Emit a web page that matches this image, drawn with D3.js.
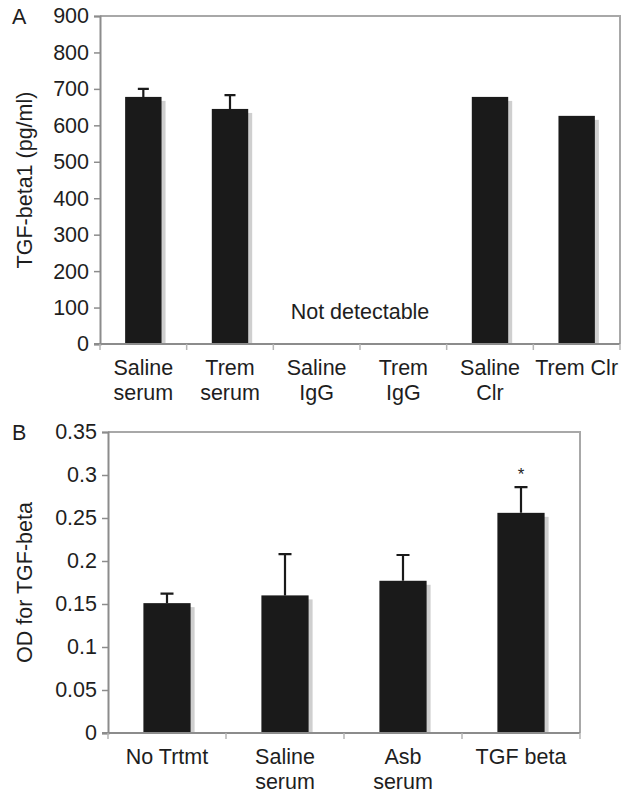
<!DOCTYPE html>
<html>
<head>
<meta charset="utf-8">
<script src="https://cdn.jsdelivr.net/npm/d3@7"></script>
<style>
  body { margin: 0; background: #fff; }
  svg text { font-family: "Liberation Sans", Arial, sans-serif; fill: #1e1e1e; }
</style>
</head>
<body>
<div id="chart"></div>
<script>
// Panel A data
const catsA = [["Saline", "serum"], ["Trem", "serum"], ["Saline", "IgG"], ["Trem", "IgG"], ["Saline", "Clr"], ["Trem Clr"]];
const valuesA = [678, 645, null, null, 678, 626];
const errorsA = [22, 38, null, null, 0, 0];
const ticksA = [0, 100, 200, 300, 400, 500, 600, 700, 800, 900];

// Panel B data
const catsB = [["No Trtmt"], ["Saline", "serum"], ["Asb", "serum"], ["TGF beta"]];
const valuesB = [0.151, 0.160, 0.177, 0.256];
const errorsB = [0.011, 0.048, 0.030, 0.030];
const ticksB = [0, 0.05, 0.1, 0.15, 0.2, 0.25, 0.3, 0.35];

const FS = 21.5;

const svg = d3.select("#chart").append("svg")
    .attr("width", 624)
    .attr("height", 795);

function drawPanel(opts) {
    const { cats, values, errors, ticks, x0, x1, y0, y1, yMax, fmt, barFrac, capW, title, letter } = opts;
    const g = svg.append("g");

    const x = d3.scaleBand()
        .domain(cats.map((d, i) => i))
        .range([x0, x1])
        .padding(0);

    const y = d3.scaleLinear()
        .domain([0, yMax])
        .range([y1, y0]);

    // frame (top and right)
    g.append("path")
        .attr("d", `M${x0},${y0}H${x1}V${y1}`)
        .attr("fill", "none")
        .attr("stroke", "#a8a8a8")
        .attr("stroke-width", 2);

    const bw = x.bandwidth() * barFrac;
    const data = values.map((v, i) => ({ i, v, e: errors[i] })).filter(d => d.v != null);

    // bar shadows
    g.selectAll("rect.shadow")
        .data(data)
        .enter().append("rect")
        .attr("class", "shadow")
        .attr("x", d => x(d.i) + (x.bandwidth() - bw) / 2 + 4)
        .attr("y", d => y(d.v) + 4)
        .attr("width", bw)
        .attr("height", d => y1 - y(d.v) - 4)
        .attr("fill", "#cfcfcf");

    // bars
    g.selectAll("rect.bar")
        .data(data)
        .enter().append("rect")
        .attr("class", "bar")
        .attr("x", d => x(d.i) + (x.bandwidth() - bw) / 2)
        .attr("y", d => y(d.v))
        .attr("width", bw)
        .attr("height", d => y1 - y(d.v))
        .attr("fill", "#1a1a1a");

    // error bars (upper only)
    const errs = data.filter(d => d.e);
    g.selectAll("path.err")
        .data(errs)
        .enter().append("path")
        .attr("class", "err")
        .attr("d", d => {
            const cx = x(d.i) + x.bandwidth() / 2;
            return `M${cx},${y(d.v)}V${y(d.v + d.e)}M${cx - capW / 2},${y(d.v + d.e)}H${cx + capW / 2}`;
        })
        .attr("fill", "none")
        .attr("stroke", "#1a1a1a")
        .attr("stroke-width", 2.2);

    // y axis
    const yAxis = g.append("g")
        .attr("transform", `translate(${x0},0)`)
        .call(d3.axisLeft(y).tickValues(ticks).tickFormat(fmt).tickSize(6).tickPadding(5));
    yAxis.select(".domain").attr("stroke", "#8c8c8c").attr("stroke-width", 2);
    yAxis.selectAll(".tick line").attr("stroke", "#8c8c8c").attr("stroke-width", 1.5);
    yAxis.selectAll(".tick text").attr("font-size", FS).attr("fill", "#1e1e1e")
        .attr("font-family", "Liberation Sans, Arial, sans-serif");

    // x axis line and category boundary ticks
    const bounds = d3.range(cats.length + 1).map(k => x0 + k * x.step());
    g.append("line")
        .attr("x1", x0 - 6).attr("x2", x1)
        .attr("y1", y1).attr("y2", y1)
        .attr("stroke", "#8c8c8c").attr("stroke-width", 2);
    g.selectAll("line.ctick")
        .data(bounds)
        .enter().append("line")
        .attr("class", "ctick")
        .attr("x1", d => d).attr("x2", d => d)
        .attr("y1", y1).attr("y2", y1 + 6)
        .attr("stroke", "#b4b4b4").attr("stroke-width", 1.5);

    // category labels
    const lab = g.selectAll("text.cat")
        .data(cats)
        .enter().append("text")
        .attr("class", "cat")
        .attr("text-anchor", "middle")
        .attr("font-size", FS)
        .attr("x", (d, i) => x(i) + x.bandwidth() / 2)
        .attr("y", y1 + 31);
    lab.selectAll("tspan")
        .data(d => d)
        .enter().append("tspan")
        .attr("x", function () { return d3.select(this.parentNode).attr("x"); })
        .attr("dy", (d, j) => j === 0 ? 0 : 24.5)
        .text(d => d);

    // y title
    g.append("text")
        .attr("transform", `translate(32,${(y0 + y1) / 2}) rotate(-90)`)
        .attr("text-anchor", "middle")
        .attr("font-size", FS)
        .text(title);

    // panel letter
    g.append("text")
        .attr("x", 12)
        .attr("y", y0 + 8)
        .attr("font-size", FS)
        .text(letter);

    return { x, y, g };
}

const A = drawPanel({
    cats: catsA, values: valuesA, errors: errorsA, ticks: ticksA,
    x0: 100, x1: 620, y0: 16, y1: 344, yMax: 900,
    fmt: d3.format("d"), barFrac: 0.42, capW: 11,
    title: "TGF-beta1 (pg/ml)", letter: "A"
});

A.g.append("text")
    .attr("x", A.x(3))
    .attr("y", 319)
    .attr("text-anchor", "middle")
    .attr("font-size", FS)
    .text("Not detectable");

const B = drawPanel({
    cats: catsB, values: valuesB, errors: errorsB, ticks: ticksB,
    x0: 108, x1: 580, y0: 432, y1: 733, yMax: 0.35,
    fmt: d => d === 0 ? "0" : String(+d.toFixed(2)), barFrac: 0.4, capW: 13,
    title: "OD for TGF-beta", letter: "B"
});

// significance marker
B.g.append("text")
    .attr("x", B.x(3) + B.x.bandwidth() / 2)
    .attr("y", B.y(valuesB[3] + errorsB[3]) - 7)
    .attr("text-anchor", "middle")
    .attr("font-size", 17)
    .text("*");
</script>
</body>
</html>
